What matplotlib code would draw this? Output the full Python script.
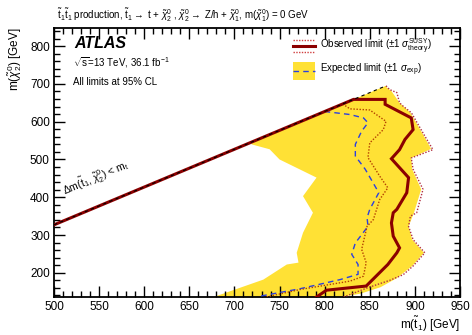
import matplotlib
matplotlib.use("Agg")
import matplotlib.pyplot as plt
import numpy as np
from matplotlib.patches import Rectangle
from matplotlib.lines import Line2D

plt.rcParams['font.family'] = ['Liberation Sans', 'DejaVu Sans']
plt.rcParams['mathtext.fontset'] = 'custom'
plt.rcParams['mathtext.rm'] = 'Liberation Sans'
plt.rcParams['mathtext.it'] = 'Liberation Sans:italic'

M_TOP = 173.0

# Observed limit (stop mass, chi2 mass)
obs_x = [500, 832, 867, 867, 896, 898, 889, 883, 874, 893, 891, 880, 876, 874, 876, 883, 880, 870, 846, 802, 791]
obs_y = [327, 659, 659, 646, 610, 579, 553, 526, 502, 452, 412, 368, 359, 332, 297, 266, 253, 222, 165, 154, 136]

# Observed +1 sigma theory (outer dotted)
obsup_x = [868, 872, 880, 883, 887, 896, 911, 920, 896, 898, 909, 902, 895, 893, 898, 911, 898, 887, 872, 847, 821]
obsup_y = [695, 685, 677, 650, 641, 624, 562, 526, 504, 474, 421, 359, 350, 323, 288, 253, 218, 195, 180, 160, 136]

# Observed -1 sigma theory (inner dotted)
obsdn_x = [820, 828, 850, 868, 865, 850, 848, 861, 870, 861, 854, 847, 841, 846, 843, 828, 773, 735]
obsdn_y = [647, 634, 631, 601, 579, 544, 505, 456, 425, 394, 341, 323, 262, 227, 191, 178, 156, 136]

# Expected limit (blue dashed)
exp_x = [800, 828, 843, 848, 841, 834, 834, 845, 860, 850, 847, 848, 834, 830, 837, 837, 817, 773, 728]
exp_y = [627, 619, 610, 597, 575, 540, 509, 474, 412, 368, 346, 323, 279, 249, 222, 196, 182, 158, 138]

# Expected +-1 sigma band: left (weaker) edge and right (stronger) edge
band_lo_x = [719, 739, 750, 791, 776, 787, 776, 769, 771, 758, 732, 677]
band_lo_y = [540, 527, 500, 452, 403, 359, 306, 253, 227, 222, 182, 136]
band_hi_x = [868, 874, 883, 895, 910, 918, 896, 897, 907, 899, 893, 897, 910, 897, 880, 862, 840, 818]
band_hi_y = [692, 681, 650, 624, 562, 528, 504, 474, 421, 359, 323, 288, 253, 218, 186, 162, 145, 136]

XMIN, XMAX = 500, 950
YMIN, YMAX = 136, 848

fig = plt.figure(figsize=(4.72, 3.35), dpi=100)
ax = fig.add_axes([54/472, 1-297/335, (460-54)/472, (297-28)/335])

yel = '#ffe135'
# yellow band: top follows kinematic diagonal
poly_x = list(band_lo_x[::-1]) + [band_lo_x[0], band_hi_x[0]] + list(band_hi_x)
poly_y = list(band_lo_y[::-1]) + [band_lo_x[0] - M_TOP, band_hi_x[0] - M_TOP] + list(band_hi_y)
ax.fill(poly_x, poly_y, color=yel, lw=0, zorder=1)

ax.plot(exp_x, exp_y, color='#2a3fe0', ls=(0, (4, 3)), lw=1.0, zorder=3)
ax.plot(obsdn_x, obsdn_y, color='#b34000', ls=(0, (1, 1.2)), lw=1.0, zorder=3)
ax.plot(obsup_x, obsup_y, color='#b03040', ls=(0, (1, 1.2)), lw=1.0, zorder=3)
ax.plot(obs_x, obs_y, color='#8b0000', lw=2.2, zorder=4, solid_joinstyle='miter')
# kinematic line
kx = np.array([500, 868])
ax.plot(kx, kx - M_TOP, color='black', ls=(0, (3, 3)), lw=0.8, zorder=5)

ax.set_xlim(XMIN, XMAX)
ax.set_ylim(YMIN, YMAX)
ax.set_xticks(np.arange(500, 951, 50))
ax.set_xticks(np.arange(500, 951, 10), minor=True)
ax.set_yticks(np.arange(200, 801, 100))
ax.set_yticks(np.arange(140, 848, 20), minor=True)
ax.tick_params(which='both', direction='in', top=True, right=True, labelsize=8.5, width=1.0, colors='black', pad=3)
ax.tick_params(which='major', length=8)
ax.tick_params(which='minor', length=4)
for s in ax.spines.values():
    s.set_linewidth(1.3)

ax.set_xlabel(r'm($\tilde{\rm t}_1$) [GeV]', fontsize=8.5, loc='right', labelpad=1)
ax.set_ylabel(r'm($\tilde{\chi}^0_2$) [GeV]', fontsize=8.5, loc='top', labelpad=4)

fig.text(57/472, 1-15/335,
         r'$\tilde{\rm t}_1\tilde{\rm t}_1$ production, $\tilde{\rm t}_1 \rightarrow$ t + $\tilde{\chi}^0_2$ , $\tilde{\chi}^0_2 \rightarrow$ Z/h + $\tilde{\chi}^0_1$, m($\tilde{\chi}^0_1$) = 0 GeV',
         fontsize=7, va='center', ha='left')

fig.text(74/472, 1-44/335, 'ATLAS', fontsize=11.5, fontweight='bold', fontstyle='italic', va='center')
fig.text(73/472, 1-63/335, r'$\sqrt{\rm s}$=13 TeV, 36.1 fb$^{-1}$', fontsize=7, va='center')
fig.text(73/472, 1-82/335, 'All limits at 95% CL', fontsize=7, va='center')

# diagonal label
ang = np.degrees(np.arctan2(126, 299))
fig.text(96/472, 1-178/335, r'$\Delta$m($\tilde{\rm t}_1$, $\tilde{\chi}^0_2$) < m$_{\rm t}$',
         fontsize=7.5, rotation=ang, va='center', ha='center', rotation_mode='anchor')

# legend, drawn by hand
def px2fig(x, y):
    return x/472, 1-y/335

lx0, lx1 = 293, 315
for yy, c, ls, lw in [(40, '#d04040', (0, (1, 1)), 1.0), (46, '#8b0000', '-', 2.2), (52, '#d04040', (0, (1, 1)), 1.0)]:
    a, b = px2fig(lx0, yy)
    c2, _ = px2fig(lx1, yy)
    fig.add_artist(Line2D([a, c2], [b, b], color=c, ls=ls, lw=lw))
fig.text(320/472, 1-46/335, r'Observed limit ($\pm$1 $\sigma^{\rm SUSY}_{\rm theory}$)', fontsize=7, va='center')
a, b = px2fig(lx0, 80)
fig.add_artist(Rectangle((a, b), (lx1-lx0)/472, 18/335, color=yel, lw=0))
a, b = px2fig(lx0, 71)
c2, _ = px2fig(lx1, 71)
fig.add_artist(Line2D([a, c2], [b, b], color='#2a3fe0', ls=(0, (4, 3)), lw=1.0))
fig.text(320/472, 1-70/335, r'Expected limit ($\pm$1 $\sigma_{\rm exp}$)', fontsize=7, va='center')

fig.savefig('out.png', dpi=100)
